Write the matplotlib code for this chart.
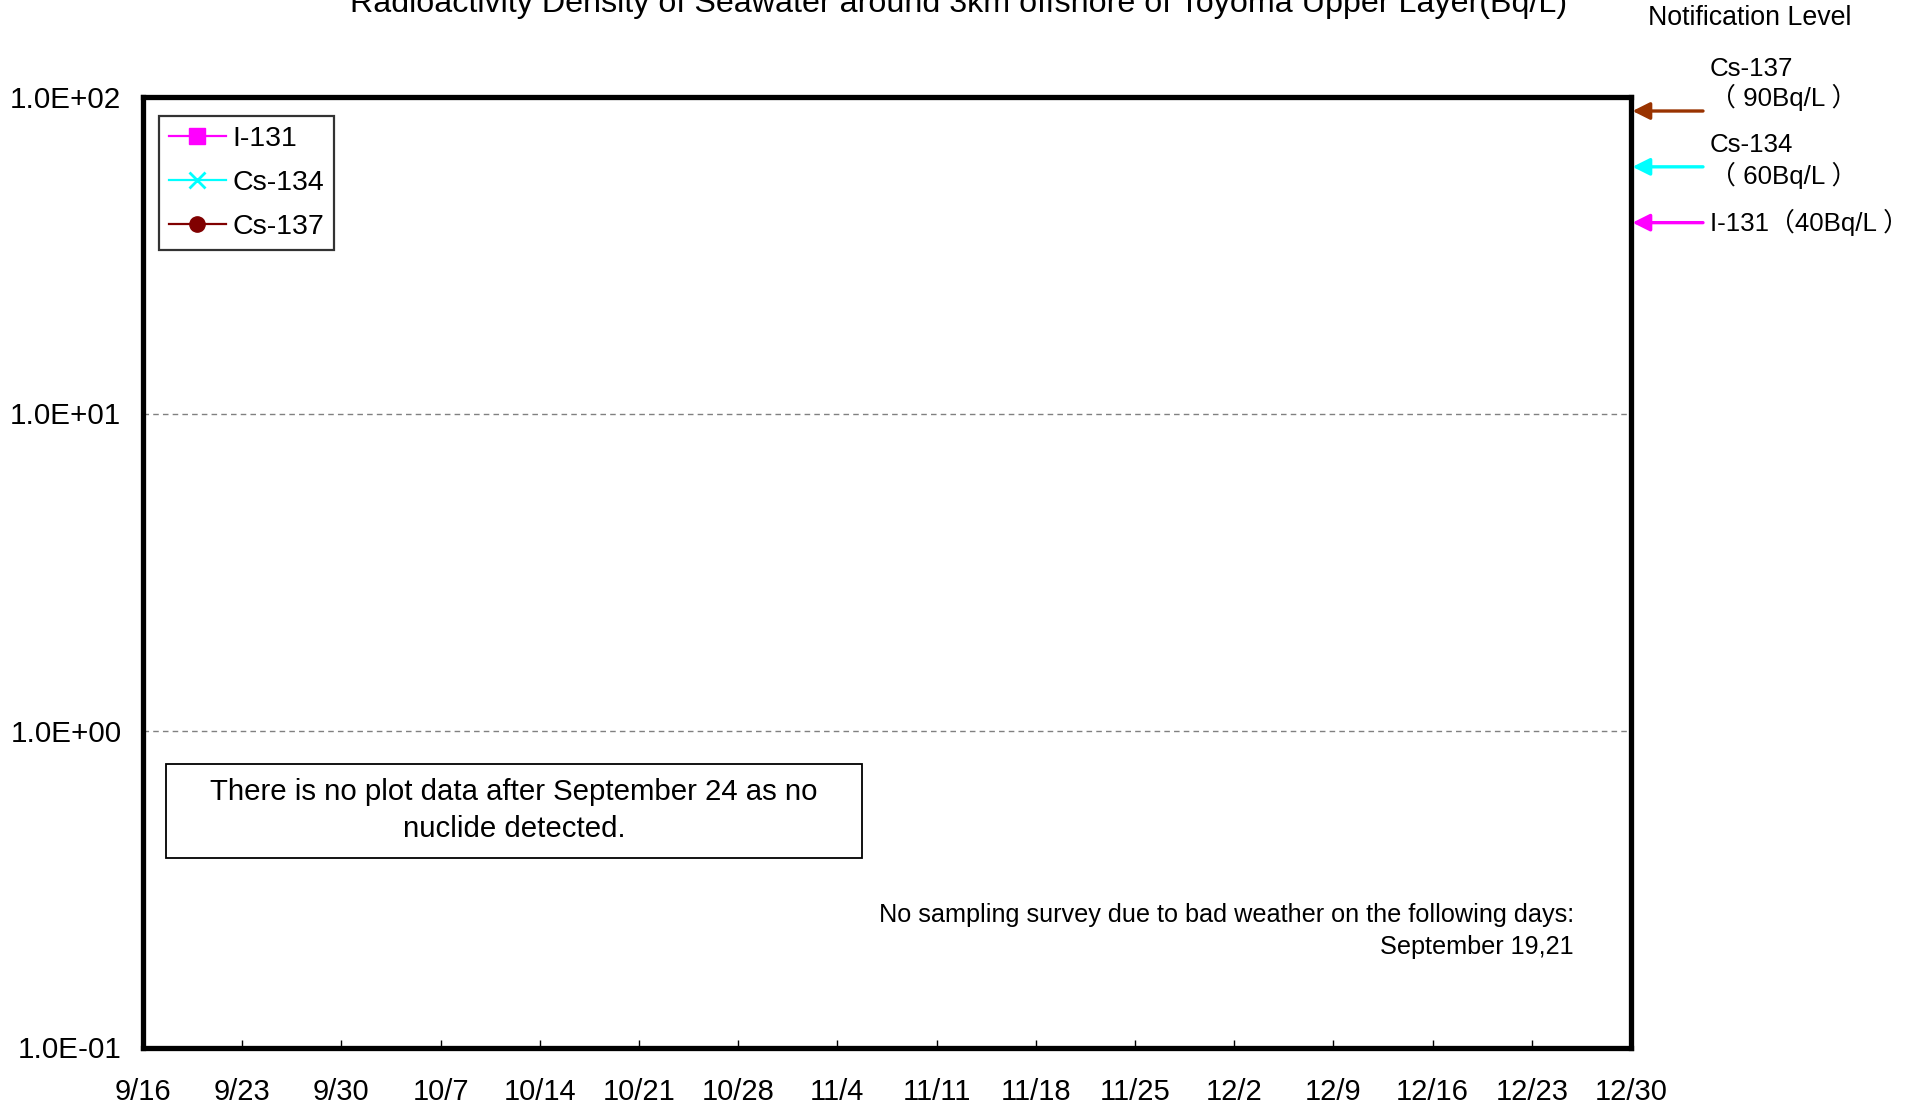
import datetime as dt
import matplotlib
matplotlib.use("Agg")
import matplotlib.pyplot as plt
import matplotlib.dates as mdates
from matplotlib.ticker import FuncFormatter, FixedLocator, NullLocator
from matplotlib.patches import Rectangle

# ---------------- data ----------------
title = "Radioactivity Density of Seawater around 3km offshore of Toyoma Upper Layer(Bq/L)"
series_names = ["I-131", "Cs-134", "Cs-137"]
series_colors = ["#FF00FF", "#00FFFF", "#800000"]
series_markers = ["s", "x", "o"]
# no nuclide detected in the displayed period -> no plotted points
sample_dates = []
i131_values = []
cs134_values = []
cs137_values = []

x_start = dt.date(2011, 9, 16)
x_end = dt.date(2011, 12, 30)
tick_step_days = 7
y_ticks = [0.1, 1, 10, 100]
y_tick_labels = ["1.0E-01", "1.0E+00", "1.0E+01", "1.0E+02"]

limit_names = ["Cs-137", "Cs-134", "I-131"]
limit_values = [90, 60, 40]
limit_colors = ["#993300", "#00FFFF", "#FF00FF"]

box_note = ["There is no plot data after September 24 as no", "nuclide detected."]
weather_note = ["No sampling survey due to bad weather on the following days:",
                "September 19,21"]

# ---------------- figure ----------------
W, H = 1916, 1108
fig = plt.figure(figsize=(W / 100, H / 100), dpi=100)
fig.patch.set_facecolor("white")
FONT = ["Liberation Sans", "Noto Sans CJK JP", "DejaVu Sans"]
plt.rcParams["font.family"] = FONT

def fx(px):
    return px / W

def fy(py):
    return 1 - py / H

ax_l, ax_r, ax_t, ax_b = 143, 1631, 96.5, 1047.5
ax = fig.add_axes([fx(ax_l), fy(ax_b), (ax_r - ax_l) / W, (ax_b - ax_t) / H])

series_values = [i131_values, cs134_values, cs137_values]
for name, vals, c, m in zip(series_names, series_values, series_colors, series_markers):
    ax.plot(sample_dates, vals, color=c, marker=m, markersize=11 if m != "x" else 12,
            markeredgewidth=2 if m == "x" else 1, lw=1.6, label=name)

ax.set_yscale("log")
ax.set_ylim(y_ticks[0], y_ticks[-1])
ax.set_xlim(mdates.date2num(x_start), mdates.date2num(x_end))

# x ticks every 7 days
ticks = []
d = x_start
while d <= x_end:
    ticks.append(mdates.date2num(d))
    d += dt.timedelta(days=tick_step_days)
ax.xaxis.set_major_locator(FixedLocator(ticks))
ax.xaxis.set_major_formatter(FuncFormatter(
    lambda v, p: f"{mdates.num2date(v).month}/{mdates.num2date(v).day}"))
ax.xaxis.set_minor_locator(NullLocator())
ax.tick_params(axis="x", direction="in", length=6, width=1, pad=22,
               labelsize=21, colors="black")

ax.set_yticks(y_ticks)
ax.set_yticklabels(y_tick_labels)
ax.yaxis.set_minor_locator(NullLocator())
ax.tick_params(axis="y", length=0, pad=15.5, labelsize=21.3)

ax.yaxis.grid(True, which="major", color="#808080", linestyle=(0, (4, 3)), lw=1)
ax.set_axisbelow(True)
for s in ax.spines.values():
    s.set_linewidth(3.8)
    s.set_color("black")

# legend
leg = ax.legend(loc="upper left", bbox_to_anchor=((159 - ax_l) / (ax_r - ax_l), 1 - (116 - ax_t) / (ax_b - ax_t)),
                borderaxespad=0, fontsize=20.5, frameon=True, fancybox=False,
                edgecolor="black", handlelength=2.0, handletextpad=0.25,
                labelspacing=0.64, borderpad=0.34)
leg.get_frame().set_linewidth(1.6)

# title (clipped at the top like the reference)
fig.text(fx(959), fy(12), title, ha="center", va="baseline", fontsize=23.2)

# notification levels
fig.text(fx(1750), fy(18), "Notification Level", ha="center", va="center", fontsize=19.3)
label_pos = {"Cs-137": [(68.5, "Cs-137"), (97, "（ 90Bq/L ）")],
             "Cs-134": [(145.5, "Cs-134"), (175, "（ 60Bq/L ）")],
             "I-131": [(222, "I-131（40Bq/L ）")]}
ytr = ax.get_yaxis_transform()
for name, val, col in zip(limit_names, limit_values, limit_colors):
    for ypix, txt in label_pos[name]:
        fig.text(fx(1710), fy(ypix), txt, ha="left", va="center", fontsize=18.6, family=FONT)
    ax.annotate("", xy=(1.001, val), xycoords=ytr,
                xytext=((1703 - ax_l) / (ax_r - ax_l), val), textcoords=ytr,
                annotation_clip=False,
                arrowprops=dict(arrowstyle="-|>", color=col, lw=2.4,
                                mutation_scale=26, shrinkA=0, shrinkB=0))

# boxed note
def axfx(px):
    return (px - ax_l) / (ax_r - ax_l)

def axfy(py):
    return 1 - (py - ax_t) / (ax_b - ax_t)

ax.add_patch(Rectangle((axfx(166), axfy(858)), axfx(862) - axfx(166), axfy(764) - axfy(858),
                       transform=ax.transAxes, fill=False, edgecolor="black", lw=1.3))
ax.text(axfx(514), axfy(792), box_note[0], transform=ax.transAxes, ha="center", va="center", fontsize=21.2)
ax.text(axfx(514), axfy(829), box_note[1], transform=ax.transAxes, ha="center", va="center", fontsize=21.2)

ax.text(axfx(1574), axfy(915), weather_note[0], transform=ax.transAxes, ha="right", va="center", fontsize=18.2)
ax.text(axfx(1574), axfy(947), weather_note[1], transform=ax.transAxes, ha="right", va="center", fontsize=18.2)

fig.savefig("out.png", dpi=100)
